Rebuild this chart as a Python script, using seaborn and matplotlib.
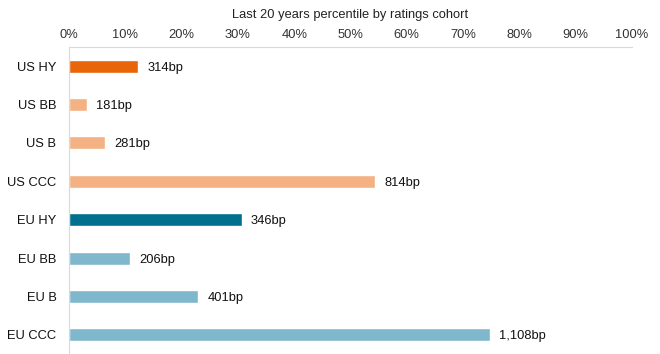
import pandas as pd
import matplotlib.pyplot as plt
import seaborn as sns

# Données
cohorts = ["US HY", "US BB", "US B", "US CCC", "EU HY", "EU BB", "EU B", "EU CCC"]
percentiles = [12.3, 3.2, 6.4, 54.4, 30.7, 10.8, 23.0, 74.8]
spread_labels = ["314bp", "181bp", "281bp", "814bp", "346bp", "206bp", "401bp", "1,108bp"]
bar_colors = ["#E8650A", "#F4B183", "#F4B183", "#F4B183",
              "#00708F", "#7FB7CC", "#7FB7CC", "#7FB7CC"]
ticks = list(range(0, 101, 10))

df = pd.DataFrame({"cohort": cohorts, "pct": percentiles})

sns.set_style("white")
plt.rcParams["font.family"] = ["Liberation Sans", "DejaVu Sans"]

fig = plt.figure(figsize=(6.6, 3.54), dpi=100)
ax = fig.add_axes([69 / 660, 0.0, 563 / 660, 1 - 47 / 354])

sns.barplot(data=df, y="cohort", x="pct", hue="cohort", palette=bar_colors,
            order=cohorts, width=0.34, legend=False, ax=ax, saturation=1)

# Étiquettes de spread au bout des barres
for i, (v, lab) in enumerate(zip(percentiles, spread_labels)):
    ax.annotate(lab, (v, i), xytext=(6.5, 0), textcoords="offset points",
                va="center_baseline", ha="left", fontsize=9.3, color="#111111")

ax.set_xlim(0, 100)
ax.set_ylim(len(cohorts) - 0.5, -0.5)
ax.xaxis.tick_top()
ax.xaxis.set_label_position("top")
ax.set_xticks(ticks)
ax.set_xticklabels([f"{t}%" for t in ticks])
ax.set_xlabel("Last 20 years percentile by ratings cohort", fontsize=9.3,
              color="#222222", labelpad=8)
ax.set_ylabel("")
ax.tick_params(axis="x", length=0, labelsize=9.3, colors="#333333", pad=4)
ax.tick_params(axis="y", length=0, labelsize=9.3, colors="#111111", pad=9)

for side in ["right", "bottom"]:
    ax.spines[side].set_visible(False)
ax.spines["top"].set_color("#d9d9d9")
ax.spines["left"].set_color("#d9d9d9")
ax.spines["top"].set_linewidth(0.8)
ax.spines["left"].set_linewidth(0.8)

fig.savefig("out.png", dpi=100)
